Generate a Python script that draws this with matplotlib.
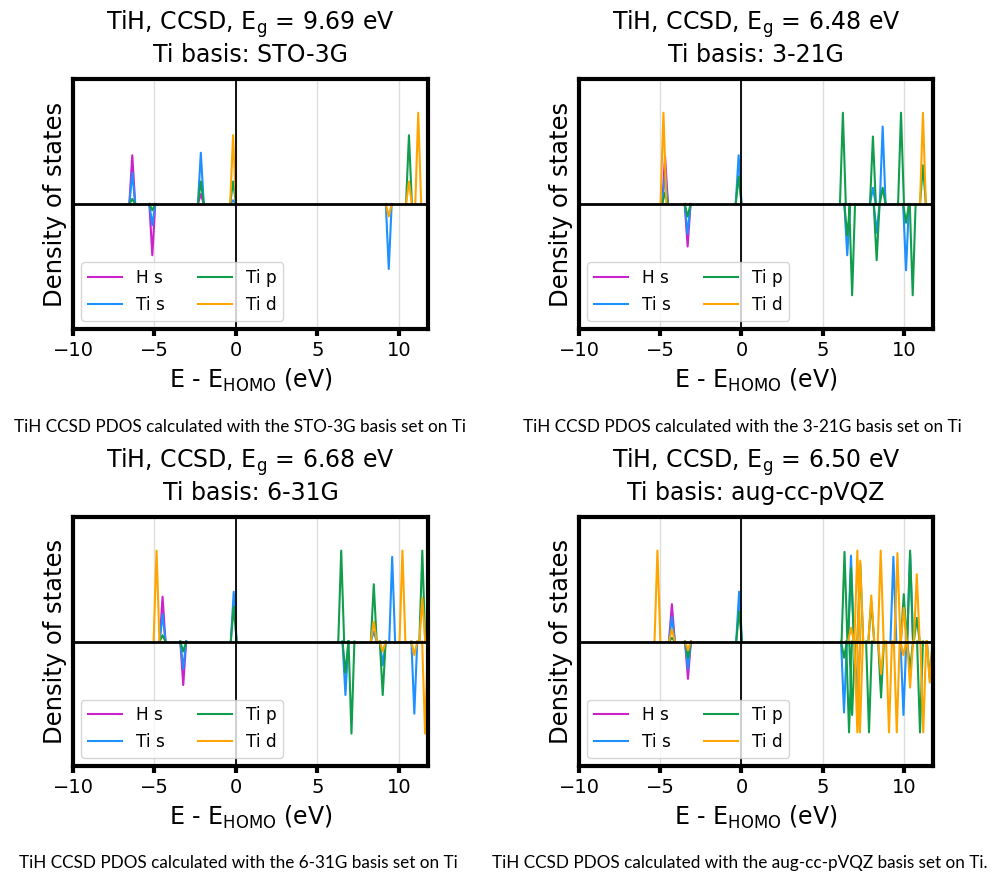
import matplotlib
matplotlib.use("Agg")
import matplotlib.pyplot as plt
import numpy as np

# orbital order used for every height row: H s, Ti s, Ti p, Ti d
orbitals = ["H s", "Ti s", "Ti p", "Ti d"]
colors = ["#cc22cc", "#1e90ff", "#119e4c", "#ffa500"]

# ---- STO-3G ----
sto3g_up_e = [-6.36, -2.15, -0.17, 10.63, 11.20]
sto3g_up = [[0.39, 0.25, 0.04, 0.00],
            [0.08, 0.41, 0.18, 0.00],
            [0.00, 0.03, 0.18, 0.55],
            [0.00, 0.00, 0.55, 0.18],
            [0.00, 0.00, 0.00, 0.73]]
sto3g_dn_e = [-5.13, 9.39]
sto3g_dn = [[-0.41, -0.17, -0.05, 0.00],
            [0.00, -0.52, 0.00, -0.10]]

# ---- 3-21G ----
b321_up_e = [-4.80, -4.70, -0.17, 6.25, 8.10, 8.70, 9.83, 11.18]
b321_up = [[0.00, 0.00, 0.00, 0.73],
           [0.38, 0.24, 0.09, 0.00],
           [0.00, 0.39, 0.22, 0.00],
           [0.00, 0.00, 0.73, 0.00],
           [0.00, 0.13, 0.54, 0.00],
           [0.00, 0.62, 0.13, 0.00],
           [0.00, 0.00, 0.73, 0.00],
           [0.00, 0.00, 0.31, 0.73]]
b321_dn_e = [-3.31, 6.52, 6.82, 8.33, 10.14, 10.55]
b321_dn = [[-0.34, -0.24, -0.10, 0.00],
           [0.00, -0.41, -0.25, 0.00],
           [0.00, 0.00, -0.73, 0.00],
           [0.00, -0.23, -0.45, 0.00],
           [0.00, -0.53, -0.15, 0.00],
           [0.00, 0.00, -0.73, 0.00]]

# ---- 6-31G ----
b631_up_e = [-4.87, -4.50, -0.13, 6.47, 8.47, 9.60, 10.23, 11.45]
b631_up = [[0.00, 0.00, 0.00, 0.73],
           [0.36, 0.22, 0.05, 0.00],
           [0.00, 0.40, 0.28, 0.00],
           [0.00, 0.00, 0.73, 0.00],
           [0.00, 0.08, 0.46, 0.16],
           [0.00, 0.68, 0.00, 0.00],
           [0.00, 0.00, 0.00, 0.73],
           [0.00, 0.00, 0.73, 0.35]]
b631_dn_e = [-3.23, 6.73, 7.10, 9.02, 10.96, 11.62]
b631_dn = [[-0.35, -0.22, -0.08, 0.00],
           [0.00, -0.43, -0.25, 0.00],
           [0.00, 0.00, -0.74, 0.00],
           [0.00, -0.19, -0.43, -0.08],
           [0.00, -0.58, 0.00, -0.11],
           [0.00, 0.00, 0.00, -0.74]]

# ---- aug-cc-pVQZ ----
vqz_up_e = [-5.17, -4.28, -0.14, 6.35, 6.75, 7.14, 7.32, 8.00, 8.58,
            9.36, 9.61, 10.00, 10.39, 10.80]
vqz_up = [[0.00, 0.00, 0.00, 0.73],
          [0.30, 0.20, 0.03, 0.10],
          [0.00, 0.40, 0.24, 0.00],
          [0.00, 0.00, 0.72, 0.00],
          [0.00, 0.69, 0.59, 0.11],
          [0.00, 0.00, 0.00, 0.73],
          [0.00, 0.00, 0.62, 0.65],
          [0.00, 0.00, 0.32, 0.37],
          [0.00, 0.00, 0.00, 0.73],
          [0.00, 0.68, 0.00, 0.00],
          [0.00, 0.00, 0.00, 0.71],
          [0.00, 0.00, 0.38, 0.27],
          [0.00, 0.70, 0.73, 0.00],
          [0.00, 0.00, 0.19, 0.54]]
vqz_dn_e = [-3.29, 6.32, 6.63, 6.82, 7.14, 7.30, 7.86, 8.60, 9.09,
            9.57, 9.98, 10.39, 11.00, 11.20, 11.60]
vqz_dn = [[-0.30, -0.22, -0.13, -0.07],
          [0.00, -0.57, -0.13, 0.00],
          [0.00, 0.00, -0.73, 0.00],
          [0.00, 0.00, -0.59, 0.00],
          [0.00, -0.47, 0.00, -0.73],
          [0.00, 0.00, 0.00, -0.73],
          [0.00, 0.00, -0.73, 0.00],
          [0.00, 0.00, -0.45, -0.26],
          [0.00, 0.00, 0.00, -0.73],
          [0.00, 0.00, 0.00, -0.73],
          [0.00, -0.59, 0.00, -0.11],
          [0.00, 0.00, -0.22, -0.37],
          [0.00, 0.00, -0.73, 0.00],
          [0.00, 0.00, 0.00, -0.73],
          [0.00, 0.00, -0.30, -0.33]]

gaps = ["9.69", "6.48", "6.68", "6.50"]
bases = ["STO-3G", "3-21G", "6-31G", "aug-cc-pVQZ"]
captions = ["TiH CCSD PDOS calculated with the STO-3G basis set on Ti",
            "TiH CCSD PDOS calculated with the 3-21G basis set on Ti",
            "TiH CCSD PDOS calculated with the 6-31G basis set on Ti",
            "TiH CCSD PDOS calculated with the aug-cc-pVQZ basis set on Ti."]

panels = [(sto3g_up_e, sto3g_up, sto3g_dn_e, sto3g_dn),
          (b321_up_e, b321_up, b321_dn_e, b321_dn),
          (b631_up_e, b631_up, b631_dn_e, b631_dn),
          (vqz_up_e, vqz_up, vqz_dn_e, vqz_dn)]

W, H = 992, 872
boxes = [(73, 79, 428, 329), (579, 79, 933, 329),
         (73, 517, 428, 766), (579, 517, 933, 766)]
cap_pos = [(240, 427), (742, 427), (238, 863), (740, 863)]

half = 0.18  # half width of each peak (eV)


def peak_line(energies, heights):
    # one narrow triangle per peak, broken apart with nan so no baseline is drawn
    xs, ys = [], []
    for e, h in sorted(zip(energies, heights)):
        if h == 0:
            continue
        xs += [e - half, e, e + half, np.nan]
        ys += [0.0, h, 0.0, np.nan]
    return xs, ys


fig = plt.figure(figsize=(W / 100, H / 100), dpi=100)

for k, (up_e, up, dn_e, dn) in enumerate(panels):
    l, t, r, b = boxes[k]
    ax = fig.add_axes([l / W, 1 - b / H, (r - l) / W, (b - t) / H])
    up = np.array(up)
    dn = np.array(dn)
    for j, orb in enumerate(orbitals):
        x, y = peak_line(up_e, up[:, j])
        ax.plot(x, y, color=colors[j], lw=1.5, label=orb)
        x, y = peak_line(dn_e, dn[:, j])
        ax.plot(x, y, color=colors[j], lw=1.5)
    ax.axhline(0, color="k", lw=2, zorder=5)
    ax.axvline(0, color="k", lw=1.3, zorder=5)
    ax.set_xlim(-10, 11.8)
    ax.set_ylim(-1, 1)
    ax.set_xticks([-10, -5, 0, 5, 10])
    ax.set_yticks([])
    ax.grid(axis="x", color="#dddddd", lw=1)
    for sp in ax.spines.values():
        sp.set_linewidth(3)
    ax.tick_params(axis="x", labelsize=14, length=5, width=3)
    ax.set_xlabel(r"E - E$_{\mathrm{HOMO}}$ (eV)", fontsize=17, labelpad=5)
    ax.set_ylabel("Density of states", fontsize=17.5)
    ax.set_title("TiH, CCSD, E$_{\\mathrm{g}}$ = " + gaps[k] + " eV\nTi basis: " + bases[k],
                 fontsize=17, pad=12)
    ax.legend(loc="lower left", ncol=2, fontsize=12.2)
    fig.text(cap_pos[k][0] / W, 1 - cap_pos[k][1] / H, captions[k],
             family="Lato", fontsize=12.3, ha="center", va="center")

fig.savefig("out.png", dpi=100)
